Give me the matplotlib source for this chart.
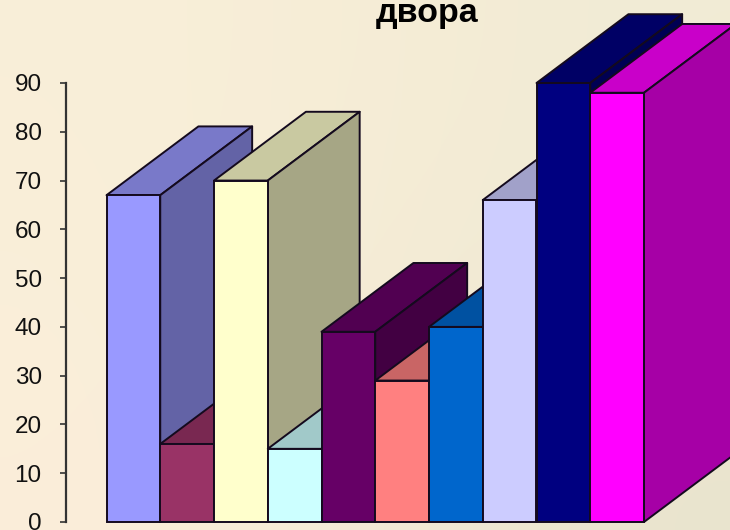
import numpy as np
import matplotlib
matplotlib.use('Agg')
from matplotlib import pyplot as plt
from matplotlib.colors import to_rgb
from matplotlib.patches import Polygon

plt.rcParams['font.family'] = ['Liberation Sans', 'DejaVu Sans']

# значения столбиков
values = [67, 16, 70, 15, 39, 29, 40, 66, 90, 88]
colors = ['#9999FF', '#993366', '#FFFFCC', '#CCFFFF', '#660066',
          '#FF8080', '#0066CC', '#CCCCFF', '#000080', '#FF00FF']
y_ticks = [0, 10, 20, 30, 40, 50, 60, 70, 80, 90]
title = 'двора'

# глубина псевдо-3D в единицах осей
depth_x = 1.71
depth_y = 14.1
edge = '#140a1e'
lw = 1.4

fig = plt.figure(figsize=(7.3, 5.3), dpi=100)

# фон - плавный градиент
bg = fig.add_axes([0, 0, 1, 1], zorder=0)
grad = np.array([[[249, 239, 217], [246, 237, 214], [241, 235, 213]],
                 [[250, 239, 217], [245, 236, 214], [240, 234, 212]],
                 [[251, 238, 218], [244, 235, 214], [233, 228, 206]]]) / 255
bg.imshow(grad, aspect='auto', interpolation='bicubic')
bg.axis('off')

# ось: 0 на 522 px, 90 на 83 px, столбик шириной 53.75 px начиная с 106.5 px
ax = fig.add_axes([66 / 730, 8 / 530, 664 / 730, 439 / 530], zorder=1)
ax.patch.set_alpha(0)
ax.set_xlim(-40.5 / 53.75, 623.5 / 53.75)
ax.set_ylim(0, 90)

for i, (v, c) in enumerate(zip(values, colors)):
    rgb = np.array(to_rgb(c))
    z = 3 + i
    # верхняя грань
    ax.add_patch(Polygon([(i, v), (i + 1, v), (i + 1 + depth_x, v + depth_y), (i + depth_x, v + depth_y)],
                         fc=rgb * 0.79, ec=edge, lw=lw, clip_on=False, zorder=z, joinstyle='round'))
    # боковая грань
    ax.add_patch(Polygon([(i + 1, 0), (i + 1 + depth_x, depth_y), (i + 1 + depth_x, v + depth_y), (i + 1, v)],
                         fc=rgb * 0.65, ec=edge, lw=lw, clip_on=False, zorder=z, joinstyle='round'))
    # передняя грань
    ax.bar(i + 0.5, v, width=1, color=c, edgecolor=edge, linewidth=lw, clip_on=False, zorder=z)

for s in ['top', 'right', 'bottom']:
    ax.spines[s].set_visible(False)
ax.spines['left'].set_color('#333333')
ax.spines['left'].set_linewidth(1.6)
ax.set_xticks([])
ax.set_yticks(y_ticks)
ax.tick_params(axis='y', length=4.5, width=1.2, color='#333333', pad=13, labelsize=17.5, labelcolor='#111111')

fig.text(427 / 730, (530 - 22) / 530, title, ha='center', va='baseline',
         fontsize=24.5, fontweight='bold', color='black')

fig.savefig('out.png', dpi=100)
